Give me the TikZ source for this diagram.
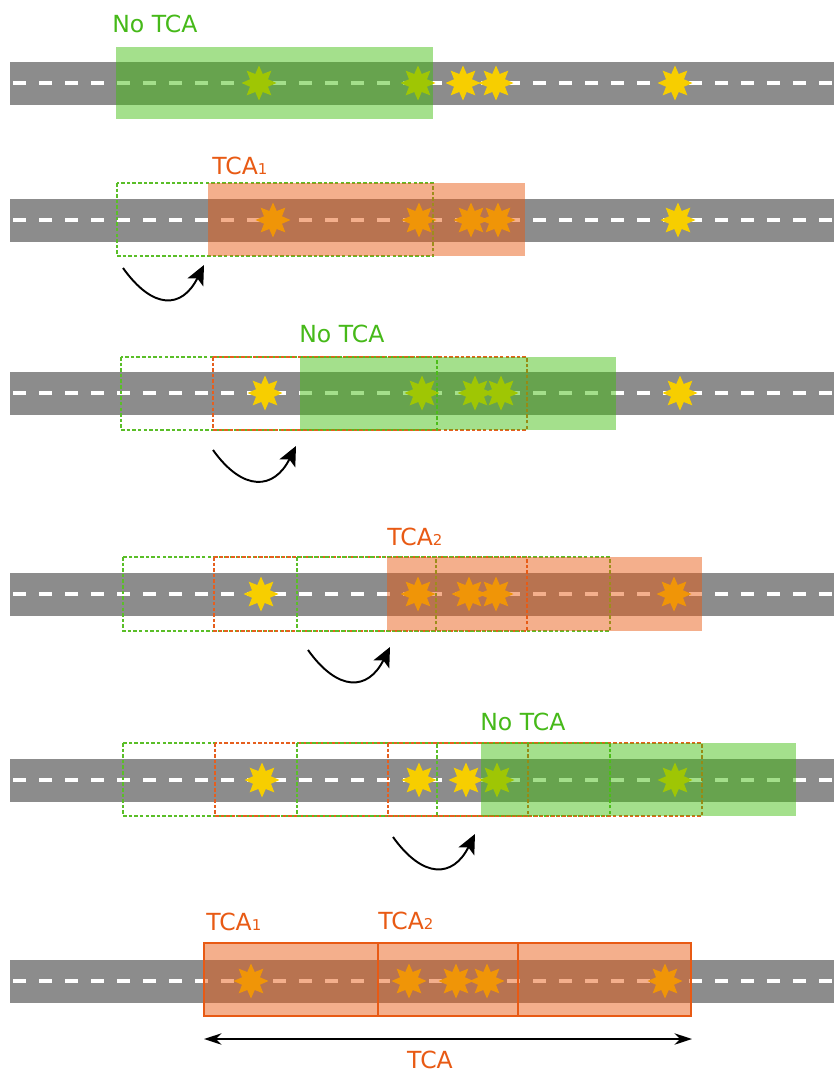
\documentclass[tikz,border=0pt]{standalone}
\usepackage{fontspec}
\setmainfont{DejaVu Sans}
\usetikzlibrary{shapes.geometric,arrows.meta,positioning}

\definecolor{roadgray}{RGB}{140,140,140}
\definecolor{starcol}{RGB}{247,206,0}
\definecolor{okgreen}{RGB}{62,189,10}
\definecolor{okdash}{RGB}{90,190,40}
\definecolor{oktext}{RGB}{70,185,25}
\definecolor{tcaorange}{RGB}{233,88,15}
\definecolor{tcadash}{RGB}{230,95,30}
\definecolor{tcatext}{RGB}{232,90,20}

\newcommand\sidx[1]{{\fontsize{8.5}{8.5}\selectfont #1}}
\newcommand\roadat[1]{\fill[roadgray] (10,#1-21.5) rectangle (834,#1+21.5);
  \draw[lane] (13,#1) -- (834,#1);}

\tikzset{
  lane/.style={white, line width=2pt, dash pattern=on 7.4pt off 7.4pt},
  spark/.style={star, star points=8, star point ratio=1.8, minimum size=0.7cm,
    inner sep=0pt, fill=starcol},
  okbox/.style={fill=okgreen, fill opacity=0.47},
  tcabox/.style={fill=tcaorange, fill opacity=0.48},
  okline/.style={draw=okdash, line width=0.9pt, dash pattern=on 2pt off 1.2pt},
  tcaline/.style={draw=tcadash, line width=0.9pt, dash pattern=on 2pt off 1.2pt},
  oklabel/.style={text=oktext, inner sep=0pt, font=\fontsize{13.4}{15}\selectfont},
  tcalabel/.style={oklabel, text=tcatext},
  hop/.style={-{Stealth[length=11pt,width=10pt,inset=2.5pt]}, line width=1.1pt},
  extent/.style={{Stealth[length=10pt,width=6.5pt]}-{Stealth[length=10pt,width=6.5pt]}, line width=1pt}
}

\begin{document}
\begin{tikzpicture}[x=0.02cm, y=-0.02cm]
  \useasboundingbox (0,0) rectangle (834,1072);

  % first window
  \roadat{83}
  \node[spark] (a1) at (259,83) {};
  \node[spark] (a2) at (418,83) {};
  \node[spark] (a3) at (463,83) {};
  \node[spark] (a4) at (496,83) {};
  \node[spark] (a5) at (675,83) {};
  \fill[okbox] (116,47) coordinate (wa) rectangle (433,119);
  \node[oklabel, above right=8pt and -2.3pt of wa] (la) {No TCA};

  % second window
  \roadat{220}
  \node[spark] (b1) at (273,220) {};
  \node[spark] (b2) at (419,220) {};
  \node[spark] (b3) at (471,220) {};
  \node[spark] (b4) at (498,220) {};
  \node[spark] (b5) at (678,220) {};
  \draw[okline] (117,183) rectangle (433,256);
  \fill[tcabox] (208,183) coordinate (wb) rectangle (525,256);
  \node[tcalabel, above right=4.5pt and 2.3pt of wb] (lb) {TCA\sidx{1}};
  \coordinate (hb0) at (123,268);
  \coordinate (hb1) at (204,265);
  \draw[hop] (hb0) .. controls +(30,42) and +(-22,44) .. (hb1);

  % third window
  \roadat{393}
  \node[spark] (c1) at (265,393) {};
  \node[spark] (c2) at (422,393) {};
  \node[spark] (c3) at (475,393) {};
  \node[spark] (c4) at (501,393) {};
  \node[spark] (c5) at (680,393) {};
  \draw[okline] (121,357) rectangle (437,430);
  \draw[tcaline] (213,357) rectangle (527,430);
  \fill[okbox] (300,357) coordinate (wc) rectangle (616,430);
  \node[oklabel, above right=8pt and -0.6pt of wc] (lc) {No TCA};
  \coordinate (hc0) at (213,450);
  \coordinate (hc1) at (296,446);
  \draw[hop] (hc0) .. controls +(30,42) and +(-22,44) .. (hc1);

  % fourth window
  \roadat{594}
  \node[spark] (d1) at (261,594) {};
  \node[spark] (d2) at (418,594) {};
  \node[spark] (d3) at (469,594) {};
  \node[spark] (d4) at (496,594) {};
  \node[spark] (d5) at (674,594) {};
  \draw[okline] (123,557) rectangle (436,631);
  \draw[tcaline] (214,557) rectangle (527,631);
  \draw[okline] (297,557) rectangle (610,631);
  \fill[tcabox] (387,557) coordinate (wd) rectangle (702,631);
  \node[tcalabel, above right=6.2pt and 0pt of wd] (ld) {TCA\sidx{2}};
  \coordinate (hd0) at (308,650);
  \coordinate (hd1) at (390,647);
  \draw[hop] (hd0) .. controls +(30,42) and +(-22,44) .. (hd1);

  % fifth window
  \roadat{780}
  \node[spark] (e1) at (262,780) {};
  \node[spark] (e2) at (419,780) {};
  \node[spark] (e3) at (466,780) {};
  \node[spark] (e4) at (497,780) {};
  \node[spark] (e5) at (675,780) {};
  \draw[okline] (123,743) rectangle (437,816);
  \draw[tcaline] (215,743) rectangle (528,816);
  \draw[okline] (297,743) rectangle (610,816);
  \draw[tcaline] (388,743) rectangle (702,816);
  \fill[okbox] (481,743) coordinate (we) rectangle (796,816);
  \node[oklabel, above right=6.8pt and -0.6pt of we] (le) {No TCA};
  \coordinate (he0) at (393,837);
  \coordinate (he1) at (475,834);
  \draw[hop] (he0) .. controls +(30,42) and +(-22,44) .. (he1);

  % merged result
  \roadat{981}
  \node[spark] (f1) at (251,981) {};
  \node[spark] (f2) at (409,981) {};
  \node[spark] (f3) at (456,981) {};
  \node[spark] (f4) at (487,981) {};
  \node[spark] (f5) at (665,981) {};
  \path[tcabox, draw=tcatext, line width=0.9pt] (204,943) coordinate (w1) rectangle (378,1016);
  \path[tcabox, draw=tcatext, line width=0.9pt] (378,943) coordinate (w2) rectangle (518,1016);
  \path[tcabox, draw=tcatext, line width=0.9pt] (518,943) coordinate (w3) rectangle (691,1016);
  \node[tcalabel, above right=6.8pt and 1.1pt of w1] (l1) {TCA\sidx{1}};
  \node[tcalabel, above right=7.4pt and 0pt of w2] (l2) {TCA\sidx{2}};
  \coordinate (x0) at (204,1039);
  \coordinate (x1) at (692,1039);
  \draw[extent] (x0) -- (x1);
  \node[tcalabel, anchor=base] (lt) at (430,1068) {TCA};
\end{tikzpicture}
\end{document}
